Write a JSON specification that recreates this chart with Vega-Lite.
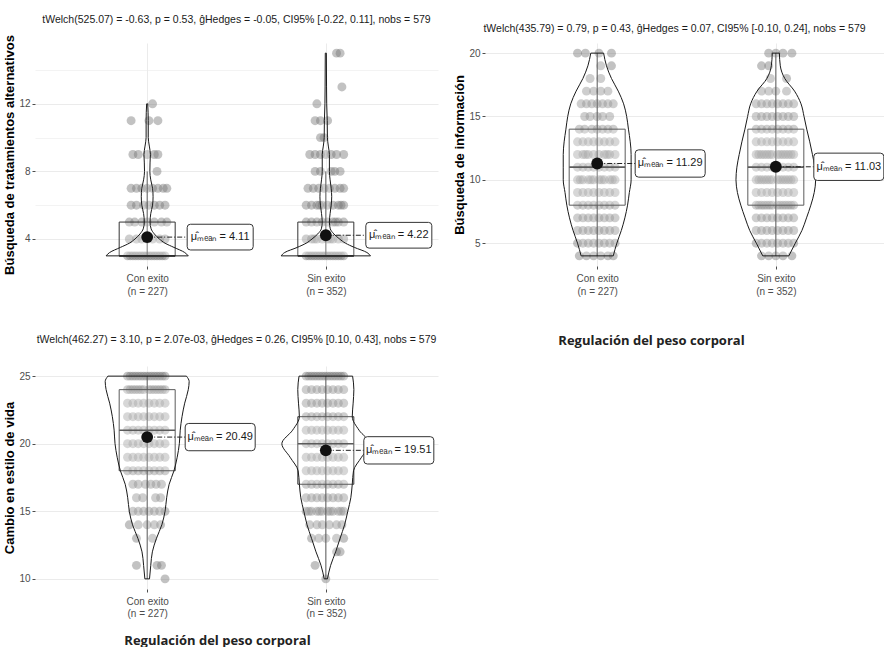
{
  "$schema": "https://vega.github.io/schema/vega-lite/v6.json",
  "padding": {"left": 3, "top": 15, "right": 0, "bottom": 0},
  "background": "white",
  "config": {
    "view": {"stroke": null},
    "axis": {"labelFont": "Liberation Sans", "labelFontSize": 10, "labelColor": "#4d4d4d", "tickColor": "#4d4d4d", "tickSize": 3, "domain": false, "gridColor": "#ebebeb", "gridWidth": 1, "titleFont": "Liberation Sans", "titleFontWeight": "bold", "titleFontSize": 13, "titleColor": "#000000"},
    "title": {"font": "Liberation Sans", "fontSize": 10.5, "fontWeight": "normal", "color": "#1a1a1a", "anchor": "middle"}
  },
  "datasets": {
    "vio": [
      {"p":"A","g":"Con","v":3.0,"xl":0.77,"xr":1.23},{"p":"A","g":"Con","v":3.2,"xl":0.79,"xr":1.21},{"p":"A","g":"Con","v":3.5,"xl":0.85,"xr":1.15},{"p":"A","g":"Con","v":3.75,"xl":0.9,"xr":1.1},{"p":"A","g":"Con","v":4.0,"xl":0.932,"xr":1.068},{"p":"A","g":"Con","v":4.3,"xl":0.96,"xr":1.04},{"p":"A","g":"Con","v":4.6,"xl":0.978,"xr":1.022},{"p":"A","g":"Con","v":5.0,"xl":0.984,"xr":1.016},{"p":"A","g":"Con","v":5.5,"xl":0.98,"xr":1.02},{"p":"A","g":"Con","v":6.0,"xl":0.97,"xr":1.03},{"p":"A","g":"Con","v":6.5,"xl":0.967,"xr":1.033},{"p":"A","g":"Con","v":7.0,"xl":0.97,"xr":1.03},{"p":"A","g":"Con","v":7.5,"xl":0.98,"xr":1.02},{"p":"A","g":"Con","v":8.0,"xl":0.985,"xr":1.015},{"p":"A","g":"Con","v":8.5,"xl":0.984,"xr":1.016},{"p":"A","g":"Con","v":9.0,"xl":0.982,"xr":1.018},{"p":"A","g":"Con","v":9.5,"xl":0.988,"xr":1.012},{"p":"A","g":"Con","v":10.0,"xl":0.994,"xr":1.006},{"p":"A","g":"Con","v":11.0,"xl":0.994,"xr":1.006},{"p":"A","g":"Con","v":12.0,"xl":0.997,"xr":1.003},
      {"p":"A","g":"Sin","v":3.0,"xl":1.75,"xr":2.25},{"p":"A","g":"Sin","v":3.2,"xl":1.77,"xr":2.23},{"p":"A","g":"Sin","v":3.5,"xl":1.84,"xr":2.16},{"p":"A","g":"Sin","v":3.75,"xl":1.89,"xr":2.11},{"p":"A","g":"Sin","v":4.0,"xl":1.923,"xr":2.077},{"p":"A","g":"Sin","v":4.3,"xl":1.955,"xr":2.045},{"p":"A","g":"Sin","v":4.6,"xl":1.975,"xr":2.025},{"p":"A","g":"Sin","v":5.0,"xl":1.98,"xr":2.02},{"p":"A","g":"Sin","v":5.5,"xl":1.976,"xr":2.024},{"p":"A","g":"Sin","v":6.0,"xl":1.97,"xr":2.03},{"p":"A","g":"Sin","v":6.5,"xl":1.967,"xr":2.033},{"p":"A","g":"Sin","v":7.0,"xl":1.97,"xr":2.03},{"p":"A","g":"Sin","v":7.5,"xl":1.976,"xr":2.024},{"p":"A","g":"Sin","v":8.0,"xl":1.98,"xr":2.02},{"p":"A","g":"Sin","v":9.0,"xl":1.98,"xr":2.02},{"p":"A","g":"Sin","v":9.5,"xl":1.986,"xr":2.014},{"p":"A","g":"Sin","v":10.0,"xl":1.991,"xr":2.009},{"p":"A","g":"Sin","v":11.0,"xl":1.992,"xr":2.008},{"p":"A","g":"Sin","v":12.0,"xl":1.995,"xr":2.005},{"p":"A","g":"Sin","v":13.0,"xl":1.996,"xr":2.004},{"p":"A","g":"Sin","v":15.0,"xl":1.997,"xr":2.003},
      {"p":"B","g":"Con","v":4,"xl":0.91,"xr":1.09},{"p":"B","g":"Con","v":5,"xl":0.89,"xr":1.11},{"p":"B","g":"Con","v":6,"xl":0.865,"xr":1.135},{"p":"B","g":"Con","v":7,"xl":0.845,"xr":1.155},{"p":"B","g":"Con","v":8,"xl":0.83,"xr":1.17},{"p":"B","g":"Con","v":9,"xl":0.82,"xr":1.18},{"p":"B","g":"Con","v":10,"xl":0.81,"xr":1.19},{"p":"B","g":"Con","v":11,"xl":0.81,"xr":1.19},{"p":"B","g":"Con","v":12,"xl":0.81,"xr":1.19},{"p":"B","g":"Con","v":13,"xl":0.815,"xr":1.185},{"p":"B","g":"Con","v":14,"xl":0.825,"xr":1.175},{"p":"B","g":"Con","v":15,"xl":0.835,"xr":1.165},{"p":"B","g":"Con","v":16,"xl":0.852,"xr":1.148},{"p":"B","g":"Con","v":17,"xl":0.882,"xr":1.118},{"p":"B","g":"Con","v":18,"xl":0.92,"xr":1.08},{"p":"B","g":"Con","v":19,"xl":0.948,"xr":1.052},{"p":"B","g":"Con","v":20,"xl":0.964,"xr":1.036},
      {"p":"B","g":"Sin","v":4,"xl":1.927,"xr":2.073},{"p":"B","g":"Sin","v":5,"xl":1.891,"xr":2.109},{"p":"B","g":"Sin","v":6,"xl":1.854,"xr":2.146},{"p":"B","g":"Sin","v":7,"xl":1.828,"xr":2.172},{"p":"B","g":"Sin","v":8,"xl":1.804,"xr":2.196},{"p":"B","g":"Sin","v":9,"xl":1.785,"xr":2.215},{"p":"B","g":"Sin","v":10,"xl":1.777,"xr":2.223},{"p":"B","g":"Sin","v":11,"xl":1.782,"xr":2.218},{"p":"B","g":"Sin","v":12,"xl":1.795,"xr":2.205},{"p":"B","g":"Sin","v":13,"xl":1.81,"xr":2.19},{"p":"B","g":"Sin","v":14,"xl":1.827,"xr":2.173},{"p":"B","g":"Sin","v":15,"xl":1.842,"xr":2.158},{"p":"B","g":"Sin","v":16,"xl":1.859,"xr":2.141},{"p":"B","g":"Sin","v":17,"xl":1.895,"xr":2.105},{"p":"B","g":"Sin","v":18,"xl":1.95,"xr":2.05},{"p":"B","g":"Sin","v":19,"xl":1.975,"xr":2.025},{"p":"B","g":"Sin","v":20,"xl":1.98,"xr":2.02},
      {"p":"C","g":"Con","v":10,"xl":0.987,"xr":1.013},{"p":"C","g":"Con","v":11,"xl":0.98,"xr":1.02},{"p":"C","g":"Con","v":12,"xl":0.971,"xr":1.029},{"p":"C","g":"Con","v":13,"xl":0.948,"xr":1.052},{"p":"C","g":"Con","v":14,"xl":0.918,"xr":1.082},{"p":"C","g":"Con","v":15,"xl":0.9,"xr":1.1},{"p":"C","g":"Con","v":16,"xl":0.891,"xr":1.109},{"p":"C","g":"Con","v":17,"xl":0.877,"xr":1.123},{"p":"C","g":"Con","v":18,"xl":0.85,"xr":1.15},{"p":"C","g":"Con","v":19,"xl":0.832,"xr":1.168},{"p":"C","g":"Con","v":20,"xl":0.82,"xr":1.18},{"p":"C","g":"Con","v":21,"xl":0.815,"xr":1.185},{"p":"C","g":"Con","v":22,"xl":0.805,"xr":1.195},{"p":"C","g":"Con","v":23,"xl":0.79,"xr":1.21},{"p":"C","g":"Con","v":24,"xl":0.77,"xr":1.23},{"p":"C","g":"Con","v":24.6,"xl":0.765,"xr":1.235},{"p":"C","g":"Con","v":25,"xl":0.78,"xr":1.22},
      {"p":"C","g":"Sin","v":10,"xl":1.991,"xr":2.009},{"p":"C","g":"Sin","v":11,"xl":1.973,"xr":2.027},{"p":"C","g":"Sin","v":12,"xl":1.945,"xr":2.055},{"p":"C","g":"Sin","v":13,"xl":1.92,"xr":2.08},{"p":"C","g":"Sin","v":14,"xl":1.895,"xr":2.105},{"p":"C","g":"Sin","v":15,"xl":1.877,"xr":2.123},{"p":"C","g":"Sin","v":16,"xl":1.86,"xr":2.14},{"p":"C","g":"Sin","v":17,"xl":1.852,"xr":2.148},{"p":"C","g":"Sin","v":18,"xl":1.845,"xr":2.155},{"p":"C","g":"Sin","v":19,"xl":1.8,"xr":2.2},{"p":"C","g":"Sin","v":20,"xl":1.754,"xr":2.246},{"p":"C","g":"Sin","v":21,"xl":1.814,"xr":2.186},{"p":"C","g":"Sin","v":22,"xl":1.852,"xr":2.148},{"p":"C","g":"Sin","v":23,"xl":1.847,"xr":2.153},{"p":"C","g":"Sin","v":24,"xl":1.843,"xr":2.157},{"p":"C","g":"Sin","v":25,"xl":1.85,"xr":2.15}
    ],
    "st": [
      {"p":"A","g":"Con exito","pos":1,"q1":3,"med":3,"q3":5,"lo":3,"hi":8,"mean":4.11,"lab":"\u03bc\u0302\u2098\u2091\u2090\u2099 = 4.11"},
      {"p":"A","g":"Sin exito","pos":2,"q1":3,"med":3,"q3":5,"lo":3,"hi":8,"mean":4.22,"lab":"\u03bc\u0302\u2098\u2091\u2090\u2099 = 4.22"},
      {"p":"B","g":"Con exito","pos":1,"q1":8,"med":11,"q3":14,"lo":4,"hi":20,"mean":11.29,"lab":"\u03bc\u0302\u2098\u2091\u2090\u2099 = 11.29"},
      {"p":"B","g":"Sin exito","pos":2,"q1":8,"med":11,"q3":14,"lo":4,"hi":20,"mean":11.03,"lab":"\u03bc\u0302\u2098\u2091\u2090\u2099 = 11.03"},
      {"p":"C","g":"Con exito","pos":1,"q1":18,"med":21,"q3":24,"lo":10,"hi":25,"mean":20.49,"lab":"\u03bc\u0302\u2098\u2091\u2090\u2099 = 20.49"},
      {"p":"C","g":"Sin exito","pos":2,"q1":17,"med":20,"q3":22,"lo":10,"hi":25,"mean":19.51,"lab":"\u03bc\u0302\u2098\u2091\u2090\u2099 = 19.51"}
    ],
    "pts": [
      {"p":"A","v":3,"x":[0.89,0.905,0.92,0.935,0.95,0.965,0.98,0.995,1.01,1.025,1.04,1.055,1.07,1.085,1.1]},
      {"p":"A","v":4,"x":[0.9,0.94,0.97,1.0,1.03,1.07,1.1]},
      {"p":"A","v":5,"x":[0.9,0.93,0.97,1.0,1.04,1.08,1.11]},
      {"p":"A","v":6,"x":[0.91,0.94,0.98,1.01,1.04,1.07,1.1]},
      {"p":"A","v":7,"x":[0.91,0.94,0.97,1.0,1.03,1.06,1.09,1.11]},
      {"p":"A","v":8,"x":[1.055]},
      {"p":"A","v":9,"x":[0.92,0.95,1.0,1.04,1.06]},
      {"p":"A","v":11,"x":[0.91,1.01,1.06]},
      {"p":"A","v":12,"x":[1.03]},
      {"p":"A","v":3,"x":[1.89,1.905,1.92,1.935,1.95,1.965,1.98,1.995,2.01,2.025,2.04,2.055,2.07,2.085,2.1]},
      {"p":"A","v":4,"x":[1.89,1.92,1.935,1.95,1.98,2.01,2.025,2.04,2.07,2.1]},
      {"p":"A","v":5,"x":[1.89,1.92,1.95,1.98,2.01,2.04,2.055,2.07,2.1]},
      {"p":"A","v":6,"x":[1.89,1.92,1.95,1.965,1.98,2.01,2.04,2.07,2.085,2.1]},
      {"p":"A","v":7,"x":[1.9,1.93,1.96,1.99,2.02,2.05,2.08,2.1]},
      {"p":"A","v":8,"x":[1.94,1.97,2.03,2.05,2.08]},
      {"p":"A","v":9,"x":[1.91,1.94,1.97,2.0,2.03,2.06,2.1]},
      {"p":"A","v":10,"x":[1.97,1.99]},
      {"p":"A","v":11,"x":[1.94,1.97,2.01]},
      {"p":"A","v":12,"x":[1.95]},
      {"p":"A","v":13,"x":[2.09]},
      {"p":"A","v":15,"x":[2.06,2.08]},
      {"p":"B","v":4,"x":[0.9,0.94,0.98,1.02,1.06,1.09]},
      {"p":"B","v":5,"x":[0.89,0.92,0.95,0.98,1.01,1.04,1.07,1.1]},
      {"p":"B","v":6,"x":[0.89,0.92,0.95,0.98,1.01,1.04,1.07,1.1]},
      {"p":"B","v":7,"x":[0.89,0.92,0.95,0.98,1.01,1.04,1.07,1.1]},
      {"p":"B","v":8,"x":[0.89,0.92,0.95,0.98,1.01,1.04,1.07,1.1]},
      {"p":"B","v":9,"x":[0.89,0.92,0.95,0.98,1.01,1.04,1.07,1.1]},
      {"p":"B","v":10,"x":[0.89,0.905,0.92,0.95,0.965,0.98,1.01,1.025,1.04,1.07,1.085,1.1]},
      {"p":"B","v":11,"x":[0.89,0.92,0.95,0.98,1.01,1.04,1.07,1.1]},
      {"p":"B","v":12,"x":[0.89,0.92,0.935,0.95,0.98,1.01,1.04,1.055,1.07,1.1]},
      {"p":"B","v":13,"x":[0.89,0.92,0.95,0.98,1.01,1.04,1.07,1.1]},
      {"p":"B","v":14,"x":[0.9,0.93,0.97,1.0,1.03,1.06,1.09]},
      {"p":"B","v":15,"x":[0.93,0.96,1.0,1.03,1.07]},
      {"p":"B","v":16,"x":[0.91,0.94,0.97,1.0,1.03,1.06,1.09]},
      {"p":"B","v":17,"x":[0.94,0.98,1.02,1.06]},
      {"p":"B","v":18,"x":[0.96,1.02]},
      {"p":"B","v":19,"x":[1.02,1.08]},
      {"p":"B","v":20,"x":[0.89,0.934,1.01,1.08]},
      {"p":"B","v":4,"x":[1.92,1.96,2.0,2.04,2.09]},
      {"p":"B","v":5,"x":[1.89,1.92,1.95,1.98,2.01,2.04,2.07,2.1]},
      {"p":"B","v":6,"x":[1.89,1.92,1.95,1.98,2.01,2.04,2.07,2.1]},
      {"p":"B","v":7,"x":[1.89,1.92,1.95,1.98,2.01,2.04,2.07,2.1]},
      {"p":"B","v":8,"x":[1.89,1.905,1.92,1.935,1.95,1.965,1.98,2.01,2.025,2.04,2.055,2.07,2.085,2.1]},
      {"p":"B","v":9,"x":[1.89,1.92,1.95,1.98,2.01,2.04,2.07,2.1]},
      {"p":"B","v":10,"x":[1.89,1.905,1.92,1.935,1.95,1.965,1.98,2.01,2.025,2.04,2.055,2.07,2.085,2.1]},
      {"p":"B","v":11,"x":[1.89,1.92,1.95,1.98,2.01,2.04,2.07,2.1]},
      {"p":"B","v":12,"x":[1.89,1.905,1.92,1.935,1.95,1.965,1.98,2.01,2.025,2.04,2.055,2.07,2.085,2.1]},
      {"p":"B","v":13,"x":[1.89,1.92,1.95,1.98,2.01,2.04,2.07,2.1]},
      {"p":"B","v":14,"x":[1.89,1.92,1.95,1.98,2.01,2.04,2.07,2.1]},
      {"p":"B","v":15,"x":[1.89,1.92,1.95,1.98,2.01,2.04,2.07,2.1]},
      {"p":"B","v":16,"x":[1.89,1.92,1.95,1.98,2.01,2.04,2.07,2.1]},
      {"p":"B","v":17,"x":[1.92,1.96,2.0,2.06]},
      {"p":"B","v":18,"x":[1.97,2.06]},
      {"p":"B","v":19,"x":[1.92,1.96]},
      {"p":"B","v":20,"x":[1.96,2.0,2.04,2.09]},
      {"p":"C","v":10,"x":[1.1]},
      {"p":"C","v":11,"x":[0.94,1.055,1.08]},
      {"p":"C","v":13,"x":[0.94,1.03]},
      {"p":"C","v":14,"x":[0.9,0.95,1.0,1.04,1.075]},
      {"p":"C","v":15,"x":[0.92,0.95,0.98,1.01,1.04,1.07,1.1]},
      {"p":"C","v":16,"x":[0.94,0.975,1.047,1.075]},
      {"p":"C","v":17,"x":[0.92,0.95,0.99,1.02,1.05,1.08]},
      {"p":"C","v":18,"x":[0.89,0.92,0.95,0.98,1.01,1.04,1.07,1.1]},
      {"p":"C","v":19,"x":[0.89,0.92,0.95,0.98,1.01,1.04,1.07,1.1]},
      {"p":"C","v":20,"x":[0.89,0.92,0.95,0.98,1.01,1.04,1.07,1.1]},
      {"p":"C","v":21,"x":[0.89,0.92,0.95,0.98,1.01,1.04,1.07,1.1]},
      {"p":"C","v":22,"x":[0.89,0.92,0.95,0.98,1.01,1.04,1.07,1.1]},
      {"p":"C","v":23,"x":[0.89,0.92,0.95,0.98,1.01,1.04,1.07,1.1]},
      {"p":"C","v":24,"x":[0.89,0.905,0.92,0.935,0.95,0.965,0.98,1.01,1.025,1.04,1.055,1.07,1.085,1.1]},
      {"p":"C","v":25,"x":[0.89,0.905,0.92,0.935,0.95,0.965,0.98,0.995,1.01,1.025,1.04,1.055,1.07,1.085,1.1]},
      {"p":"C","v":10,"x":[2.0]},
      {"p":"C","v":11,"x":[1.94]},
      {"p":"C","v":12,"x":[2.06,2.08]},
      {"p":"C","v":13,"x":[1.92,1.96,2.0,2.06,2.1]},
      {"p":"C","v":14,"x":[1.91,1.95,1.98,2.02,2.06,2.09]},
      {"p":"C","v":15,"x":[1.89,1.905,1.92,1.95,1.965,1.98,2.01,2.025,2.04,2.07,2.085,2.1]},
      {"p":"C","v":16,"x":[1.89,1.92,1.95,1.98,2.01,2.04,2.07,2.1]},
      {"p":"C","v":17,"x":[1.89,1.92,1.95,1.98,2.01,2.04,2.07,2.1]},
      {"p":"C","v":18,"x":[1.89,1.92,1.95,1.98,2.01,2.04,2.07,2.1]},
      {"p":"C","v":19,"x":[1.89,1.92,1.95,1.98,2.01,2.04,2.07,2.1]},
      {"p":"C","v":20,"x":[1.89,1.92,1.95,1.98,2.01,2.04,2.07,2.1]},
      {"p":"C","v":21,"x":[1.89,1.92,1.95,1.98,2.01,2.04,2.07,2.1]},
      {"p":"C","v":22,"x":[1.89,1.92,1.95,1.98,2.01,2.04,2.07,2.1]},
      {"p":"C","v":23,"x":[1.89,1.92,1.95,1.98,2.01,2.04,2.07,2.1]},
      {"p":"C","v":24,"x":[1.89,1.92,1.95,1.98,2.01,2.04,2.07,2.1]},
      {"p":"C","v":25,"x":[1.89,1.905,1.92,1.935,1.95,1.965,1.98,1.995,2.01,2.025,2.04,2.055,2.07,2.085,2.1]}
    ]
  },
  "columns": 2,
  "spacing": {"row": 100, "column": 47},
  "bounds": "flush",
  "concat": [
    {
      "width": 403, "height": 223,
      "title": {"text": "tWelch(525.07) = -0.63, p = 0.53, \u011dHedges = -0.05, CI95% [-0.22, 0.11], nobs = 579", "offset": 9},
      "layer": [
        {"data": {"name": "pts"}, "transform": [{"filter": "datum.p == 'A'"}, {"flatten": ["x"]}],
         "mark": {"type": "circle", "size": 80, "color": "#777777", "opacity": 0.45},
         "encoding": {
           "x": {"field": "x", "type": "quantitative", "scale": {"domain": [0.4, 2.6], "nice": false, "zero": false},
                 "axis": {"title": null, "values": [1, 2], "labelExpr": "datum.value == 1 ? ['Con exito', '(n = 227)'] : ['Sin exito', '(n = 352)']", "labelLineHeight": 13, "labelPadding": 4, "labelFlush": false, "labelOverlap": false}},
           "y": {"field": "v", "type": "quantitative", "scale": {"domain": [2.4, 15.6], "nice": false, "zero": false},
                 "axis": {"title": "Búsqueda de tratamientos alternativos", "values": [4, 6, 8, 10, 12, 14], "labelExpr": "datum.value % 4 == 0 ? datum.label : ''", "tickOpacity": {"condition": {"test": "datum.value % 4 != 0", "value": 0}, "value": 1}, "gridWidth": {"condition": {"test": "datum.value % 4 != 0", "value": 0.6}, "value": 1}, "titlePadding": 2, "labelPadding": 2}}
         }},
        {"data": {"name": "st"}, "transform": [{"filter": "datum.p == 'A'"}],
         "mark": {"type": "rule", "color": "#333333", "strokeWidth": 1},
         "encoding": {"x": {"field": "pos", "type": "quantitative"}, "y": {"field": "lo", "type": "quantitative"}, "y2": {"field": "hi"}}},
        {"data": {"name": "st"}, "transform": [{"filter": "datum.p == 'A'"}],
         "mark": {"type": "bar", "width": 56, "fill": "white", "fillOpacity": 0.2, "stroke": "#333333", "strokeWidth": 1},
         "encoding": {"x": {"field": "pos", "type": "quantitative"}, "y": {"field": "q1", "type": "quantitative"}, "y2": {"field": "q3"}}},
        {"data": {"name": "st"}, "transform": [{"filter": "datum.p == 'A'"}],
         "mark": {"type": "tick", "orient": "horizontal", "size": 56, "thickness": 1.6, "color": "#333333", "opacity": 1},
         "encoding": {"x": {"field": "pos", "type": "quantitative"}, "y": {"field": "med", "type": "quantitative"}}},
        {"data": {"name": "vio"}, "transform": [{"filter": "datum.p == 'A'"}],
         "mark": {"type": "area", "orient": "horizontal", "interpolate": "monotone", "fill": "white", "fillOpacity": 0.2, "stroke": "#1a1a1a", "strokeWidth": 1},
         "encoding": {"x": {"field": "xl", "type": "quantitative"}, "x2": {"field": "xr"}, "y": {"field": "v", "type": "quantitative"}, "detail": {"field": "g"}}},
        {"data": {"name": "st"}, "transform": [{"filter": "datum.p == 'A'"}],
         "mark": {"type": "rule", "x2Offset": 40, "strokeDash": [5, 2, 1, 2], "color": "#222222", "strokeWidth": 1},
         "encoding": {"x": {"field": "pos", "type": "quantitative"}, "x2": {"field": "pos"}, "y": {"field": "mean", "type": "quantitative"}}},
        {"data": {"name": "st"}, "transform": [{"filter": "datum.p == 'A'"}],
         "mark": {"type": "circle", "size": 140, "color": "#111111", "opacity": 1},
         "encoding": {"x": {"field": "pos", "type": "quantitative"}, "y": {"field": "mean", "type": "quantitative"}}},
        {"data": {"name": "st"}, "transform": [{"filter": "datum.p == 'A'"}],
         "mark": {"type": "point", "shape": "M-0.9,-0.39L0.9,-0.39Q1,-0.39,1,-0.29L1,0.29Q1,0.39,0.9,0.39L-0.9,0.39Q-1,0.39,-1,0.29L-1,-0.29Q-1,-0.39,-0.9,-0.39Z", "size": 4356, "fill": "white", "fillOpacity": 1, "stroke": "#333333", "strokeWidth": 1, "opacity": 1, "xOffset": 73},
         "encoding": {"x": {"field": "pos", "type": "quantitative"}, "y": {"field": "mean", "type": "quantitative"}}},
        {"data": {"name": "st"}, "transform": [{"filter": "datum.p == 'A'"}],
         "mark": {"type": "text", "xOffset": 73, "fontSize": 11, "font": "Liberation Sans", "color": "#1a1a1a", "align": "center", "baseline": "middle"},
         "encoding": {"x": {"field": "pos", "type": "quantitative"}, "y": {"field": "mean", "type": "quantitative"}, "text": {"field": "lab"}}}
      ]
    },
    {
      "width": 403, "height": 223,
      "title": {"text": "tWelch(435.79) = 0.79, p = 0.43, \u011dHedges = 0.07, CI95% [-0.10, 0.24], nobs = 579", "offset": 9, "dx": -12},
      "layer": [
        {"data": {"name": "pts"}, "transform": [{"filter": "datum.p == 'B'"}, {"flatten": ["x"]}],
         "mark": {"type": "circle", "size": 80, "color": "#777777", "opacity": 0.45},
         "encoding": {
           "x": {"field": "x", "type": "quantitative", "scale": {"domain": [0.4, 2.6], "nice": false, "zero": false},
                 "axis": {"title": "Regulación del peso corporal", "titleFont": "Open Sans", "titleFontWeight": "bold", "titleFontSize": 13, "titleColor": "#222222", "titlePadding": 38, "titleX": 166, "values": [1, 2], "labelExpr": "datum.value == 1 ? ['Con exito', '(n = 227)'] : ['Sin exito', '(n = 352)']", "labelLineHeight": 13, "labelPadding": 4, "labelFlush": false, "labelOverlap": false}},
           "y": {"field": "v", "type": "quantitative", "scale": {"domain": [3.2, 20.8], "nice": false, "zero": false},
                 "axis": {"title": "Búsqueda de información", "values": [5, 7.5, 10, 12.5, 15, 17.5, 20], "labelExpr": "datum.value % 5 == 0 ? datum.label : ''", "tickOpacity": {"condition": {"test": "datum.value % 5 != 0", "value": 0}, "value": 1}, "gridWidth": {"condition": {"test": "datum.value % 5 != 0", "value": 0.6}, "value": 1}, "titlePadding": 2, "labelPadding": 2}}
         }},
        {"data": {"name": "st"}, "transform": [{"filter": "datum.p == 'B'"}],
         "mark": {"type": "rule", "color": "#333333", "strokeWidth": 1},
         "encoding": {"x": {"field": "pos", "type": "quantitative"}, "y": {"field": "lo", "type": "quantitative"}, "y2": {"field": "hi"}}},
        {"data": {"name": "st"}, "transform": [{"filter": "datum.p == 'B'"}],
         "mark": {"type": "bar", "width": 56, "fill": "white", "fillOpacity": 0.2, "stroke": "#333333", "strokeWidth": 1},
         "encoding": {"x": {"field": "pos", "type": "quantitative"}, "y": {"field": "q1", "type": "quantitative"}, "y2": {"field": "q3"}}},
        {"data": {"name": "st"}, "transform": [{"filter": "datum.p == 'B'"}],
         "mark": {"type": "tick", "orient": "horizontal", "size": 56, "thickness": 1.6, "color": "#333333", "opacity": 1},
         "encoding": {"x": {"field": "pos", "type": "quantitative"}, "y": {"field": "med", "type": "quantitative"}}},
        {"data": {"name": "vio"}, "transform": [{"filter": "datum.p == 'B'"}],
         "mark": {"type": "area", "orient": "horizontal", "interpolate": "monotone", "fill": "white", "fillOpacity": 0.2, "stroke": "#1a1a1a", "strokeWidth": 1},
         "encoding": {"x": {"field": "xl", "type": "quantitative"}, "x2": {"field": "xr"}, "y": {"field": "v", "type": "quantitative"}, "detail": {"field": "g"}}},
        {"data": {"name": "st"}, "transform": [{"filter": "datum.p == 'B'"}],
         "mark": {"type": "rule", "x2Offset": 38, "strokeDash": [5, 2, 1, 2], "color": "#222222", "strokeWidth": 1},
         "encoding": {"x": {"field": "pos", "type": "quantitative"}, "x2": {"field": "pos"}, "y": {"field": "mean", "type": "quantitative"}}},
        {"data": {"name": "st"}, "transform": [{"filter": "datum.p == 'B'"}],
         "mark": {"type": "circle", "size": 140, "color": "#111111", "opacity": 1},
         "encoding": {"x": {"field": "pos", "type": "quantitative"}, "y": {"field": "mean", "type": "quantitative"}}},
        {"data": {"name": "st"}, "transform": [{"filter": "datum.p == 'B'"}],
         "mark": {"type": "point", "shape": "M-0.9,-0.39L0.9,-0.39Q1,-0.39,1,-0.29L1,0.29Q1,0.39,0.9,0.39L-0.9,0.39Q-1,0.39,-1,0.29L-1,-0.29Q-1,-0.39,-0.9,-0.39Z", "size": 4900, "fill": "white", "fillOpacity": 1, "stroke": "#333333", "strokeWidth": 1, "opacity": 1, "xOffset": 73},
         "encoding": {"x": {"field": "pos", "type": "quantitative"}, "y": {"field": "mean", "type": "quantitative"}}},
        {"data": {"name": "st"}, "transform": [{"filter": "datum.p == 'B'"}],
         "mark": {"type": "text", "xOffset": 73, "fontSize": 11, "font": "Liberation Sans", "color": "#1a1a1a", "align": "center", "baseline": "middle"},
         "encoding": {"x": {"field": "pos", "type": "quantitative"}, "y": {"field": "mean", "type": "quantitative"}, "text": {"field": "lab"}}}
      ]
    },
    {
      "width": 403, "height": 223,
      "title": {"text": "tWelch(462.27) = 3.10, p = 2.07e-03, \u011dHedges = 0.26, CI95% [0.10, 0.43], nobs = 579", "offset": 21},
      "layer": [
        {"data": {"name": "pts"}, "transform": [{"filter": "datum.p == 'C'"}, {"flatten": ["x"]}],
         "mark": {"type": "circle", "size": 80, "color": "#777777", "opacity": 0.45},
         "encoding": {
           "x": {"field": "x", "type": "quantitative", "scale": {"domain": [0.4, 2.6], "nice": false, "zero": false},
                 "axis": {"title": "Regulación del peso corporal", "titleFont": "Open Sans", "titleFontWeight": "bold", "titleFontSize": 13, "titleColor": "#222222", "titlePadding": 16, "titleX": 182, "values": [1, 2], "labelExpr": "datum.value == 1 ? ['Con exito', '(n = 227)'] : ['Sin exito', '(n = 352)']", "labelLineHeight": 12, "labelPadding": 4, "labelFlush": false, "labelOverlap": false}},
           "y": {"field": "v", "type": "quantitative", "scale": {"domain": [9.25, 25.75], "nice": false, "zero": false},
                 "axis": {"title": "Cambio en estilo de vida", "values": [10, 12.5, 15, 17.5, 20, 22.5, 25], "labelExpr": "datum.value % 5 == 0 ? datum.label : ''", "tickOpacity": {"condition": {"test": "datum.value % 5 != 0", "value": 0}, "value": 1}, "gridWidth": {"condition": {"test": "datum.value % 5 != 0", "value": 0.6}, "value": 1}, "titlePadding": 2, "labelPadding": 2}}
         }},
        {"data": {"name": "st"}, "transform": [{"filter": "datum.p == 'C'"}],
         "mark": {"type": "rule", "color": "#333333", "strokeWidth": 1},
         "encoding": {"x": {"field": "pos", "type": "quantitative"}, "y": {"field": "lo", "type": "quantitative"}, "y2": {"field": "hi"}}},
        {"data": {"name": "st"}, "transform": [{"filter": "datum.p == 'C'"}],
         "mark": {"type": "bar", "width": 56, "fill": "white", "fillOpacity": 0.2, "stroke": "#333333", "strokeWidth": 1},
         "encoding": {"x": {"field": "pos", "type": "quantitative"}, "y": {"field": "q1", "type": "quantitative"}, "y2": {"field": "q3"}}},
        {"data": {"name": "st"}, "transform": [{"filter": "datum.p == 'C'"}],
         "mark": {"type": "tick", "orient": "horizontal", "size": 56, "thickness": 1.6, "color": "#333333", "opacity": 1},
         "encoding": {"x": {"field": "pos", "type": "quantitative"}, "y": {"field": "med", "type": "quantitative"}}},
        {"data": {"name": "vio"}, "transform": [{"filter": "datum.p == 'C'"}],
         "mark": {"type": "area", "orient": "horizontal", "interpolate": "monotone", "fill": "white", "fillOpacity": 0.2, "stroke": "#1a1a1a", "strokeWidth": 1},
         "encoding": {"x": {"field": "xl", "type": "quantitative"}, "x2": {"field": "xr"}, "y": {"field": "v", "type": "quantitative"}, "detail": {"field": "g"}}},
        {"data": {"name": "st"}, "transform": [{"filter": "datum.p == 'C'"}],
         "mark": {"type": "rule", "x2Offset": 38, "strokeDash": [5, 2, 1, 2], "color": "#222222", "strokeWidth": 1},
         "encoding": {"x": {"field": "pos", "type": "quantitative"}, "x2": {"field": "pos"}, "y": {"field": "mean", "type": "quantitative"}}},
        {"data": {"name": "st"}, "transform": [{"filter": "datum.p == 'C'"}],
         "mark": {"type": "circle", "size": 140, "color": "#111111", "opacity": 1},
         "encoding": {"x": {"field": "pos", "type": "quantitative"}, "y": {"field": "mean", "type": "quantitative"}}},
        {"data": {"name": "st"}, "transform": [{"filter": "datum.p == 'C'"}],
         "mark": {"type": "point", "shape": "M-0.9,-0.39L0.9,-0.39Q1,-0.39,1,-0.29L1,0.29Q1,0.39,0.9,0.39L-0.9,0.39Q-1,0.39,-1,0.29L-1,-0.29Q-1,-0.39,-0.9,-0.39Z", "size": 4900, "fill": "white", "fillOpacity": 1, "stroke": "#333333", "strokeWidth": 1, "opacity": 1, "xOffset": 73},
         "encoding": {"x": {"field": "pos", "type": "quantitative"}, "y": {"field": "mean", "type": "quantitative"}}},
        {"data": {"name": "st"}, "transform": [{"filter": "datum.p == 'C'"}],
         "mark": {"type": "text", "xOffset": 73, "fontSize": 11, "font": "Liberation Sans", "color": "#1a1a1a", "align": "center", "baseline": "middle"},
         "encoding": {"x": {"field": "pos", "type": "quantitative"}, "y": {"field": "mean", "type": "quantitative"}, "text": {"field": "lab"}}}
      ]
    }
  ]
}
